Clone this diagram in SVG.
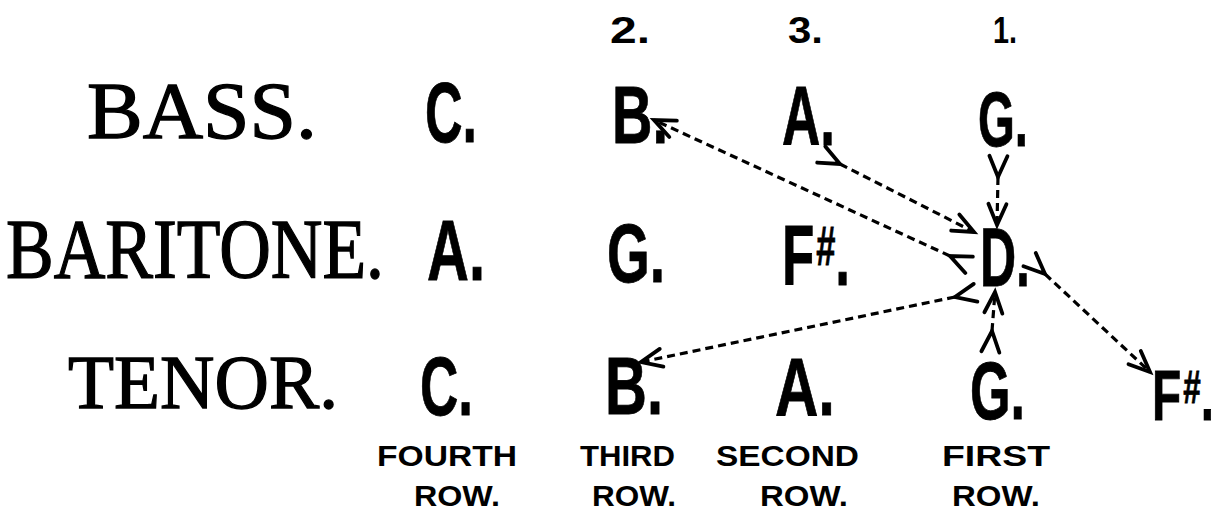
<svg xmlns="http://www.w3.org/2000/svg" width="1218" height="527" viewBox="0 0 1218 527">
<style>
.bg{fill:#fff}
.part{font-family:"Liberation Serif","Times New Roman",serif;fill:#000;stroke:#000;stroke-width:1.3}
.note{font-family:"Liberation Sans",Arial,sans-serif;font-weight:bold;fill:#000;stroke:#000;stroke-width:0.8}
.num{font-family:"Liberation Sans",Arial,sans-serif;font-weight:bold;font-size:37px;fill:#000}
.cap{font-family:"Liberation Sans",Arial,sans-serif;font-weight:bold;font-size:29px;fill:#000}
.conn{fill:none;stroke:#000;stroke-width:3.2;stroke-dasharray:8 5}
</style>
<defs>
<marker id="chev" viewBox="-26 -13 30 26" markerWidth="30" markerHeight="26" refX="0" refY="0" markerUnits="userSpaceOnUse" orient="auto" overflow="visible">
<path d="M-21,-9 L0,0 L-21,9" fill="none" stroke="#000" stroke-width="3.8" stroke-linecap="round" stroke-linejoin="miter"/>
</marker>
</defs>
<rect class="bg" x="0" y="0" width="1218" height="527"/>

<g id="order-numbers">
<text class="num" x="610" y="43" textLength="40" lengthAdjust="spacingAndGlyphs">2.</text>
<text class="num" x="788" y="43" textLength="35" lengthAdjust="spacingAndGlyphs">3.</text>
<text class="num" x="993" y="43" textLength="24" lengthAdjust="spacingAndGlyphs">1.</text>
</g>

<g id="part-labels">
<text id="bass" class="part" x="87" y="138" font-size="80" textLength="230" lengthAdjust="spacingAndGlyphs">BASS.</text>
<text id="baritone" class="part" x="6" y="278" font-size="84" textLength="378" lengthAdjust="spacingAndGlyphs">BARITONE.</text>
<text id="tenor" class="part" x="68" y="408" font-size="76" textLength="270" lengthAdjust="spacingAndGlyphs">TENOR.</text>
</g>

<g id="bass-C"><text class="note" x="425" y="142" font-size="86" textLength="52" lengthAdjust="spacingAndGlyphs">C.</text></g>
<g id="bass-B"><text class="note" x="612" y="143" font-size="82" textLength="56" lengthAdjust="spacingAndGlyphs">B.</text></g>
<g id="bass-A"><text class="note" x="782" y="145" font-size="84" textLength="53" lengthAdjust="spacingAndGlyphs">A.</text></g>
<g id="bass-G"><text class="note" x="978" y="146" font-size="78" textLength="50" lengthAdjust="spacingAndGlyphs">G.</text></g>

<g id="baritone-A"><text class="note" x="427" y="280" font-size="86" textLength="58" lengthAdjust="spacingAndGlyphs">A.</text></g>
<g id="baritone-G"><text class="note" x="607" y="282" font-size="84" textLength="58" lengthAdjust="spacingAndGlyphs">G.</text></g>
<g id="baritone-Fsharp"><text class="note" x="782" y="285" font-size="86" textLength="68" lengthAdjust="spacingAndGlyphs">F<tspan font-size="56" dy="-20" dx="3">#</tspan><tspan dy="20">.</tspan></text></g>
<g id="baritone-D"><text class="note" x="980" y="286" font-size="84" textLength="50" lengthAdjust="spacingAndGlyphs">D.</text></g>

<g id="tenor-C"><text class="note" x="420" y="415" font-size="84" textLength="53" lengthAdjust="spacingAndGlyphs">C.</text></g>
<g id="tenor-B"><text class="note" x="605" y="414" font-size="82" textLength="58" lengthAdjust="spacingAndGlyphs">B.</text></g>
<g id="tenor-A"><text class="note" x="775" y="415" font-size="82" textLength="60" lengthAdjust="spacingAndGlyphs">A.</text></g>
<g id="tenor-G"><text class="note" x="970" y="419" font-size="82" textLength="55" lengthAdjust="spacingAndGlyphs">G.</text></g>
<g id="tenor-Fsharp"><text class="note" x="1152" y="420" font-size="70" textLength="62" lengthAdjust="spacingAndGlyphs">F<tspan font-size="46" dy="-17" dx="3">#</tspan><tspan dy="17">.</tspan></text></g>

<g id="row-labels">
<text class="cap" x="377" y="466" textLength="140" lengthAdjust="spacingAndGlyphs">FOURTH</text>
<text class="cap" x="414" y="506" textLength="86" lengthAdjust="spacingAndGlyphs">ROW.</text>
<text class="cap" x="580" y="466" textLength="95" lengthAdjust="spacingAndGlyphs">THIRD</text>
<text class="cap" x="592" y="506" textLength="84" lengthAdjust="spacingAndGlyphs">ROW.</text>
<text class="cap" x="716" y="466" textLength="143" lengthAdjust="spacingAndGlyphs">SECOND</text>
<text class="cap" x="760" y="506" textLength="88" lengthAdjust="spacingAndGlyphs">ROW.</text>
<text class="cap" x="942" y="466" textLength="108" lengthAdjust="spacingAndGlyphs">FIRST</text>
<text class="cap" x="952" y="506" textLength="88" lengthAdjust="spacingAndGlyphs">ROW.</text>
</g>

<g id="connectors">
<path class="conn" d="M840,164 L974,232" marker-start="url(#chev)" marker-end="url(#chev)"/>
<path class="conn" d="M998,177 L997,225" marker-start="url(#chev)" marker-end="url(#chev)"/>
<path class="conn" d="M950,256 L654,120" marker-start="url(#chev)" marker-end="url(#chev)"/>
<path class="conn" d="M955,297 L641,362" marker-start="url(#chev)" marker-end="url(#chev)"/>
<path class="conn" d="M992,331 L995,292" marker-start="url(#chev)" marker-end="url(#chev)"/>
<path class="conn" d="M1045,274 L1150,372" marker-start="url(#chev)" marker-end="url(#chev)"/>
</g>
</svg>
